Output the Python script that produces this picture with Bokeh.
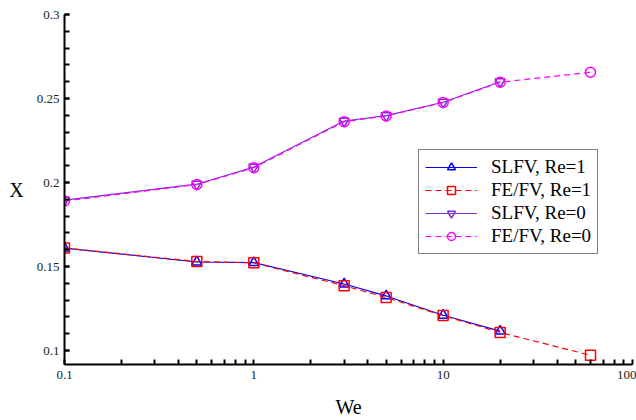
from bokeh.plotting import figure
from bokeh.models import FixedTicker, Legend, LegendItem, Range1d
from bokeh.embed import file_html
from bokeh.resources import INLINE

# Weber numbers sampled by each method
we_slfv = [0.1, 0.5, 1, 3, 5, 10, 20]
we_fefv = [0.1, 0.5, 1, 3, 5, 10, 20, 60]

# X versus We for each method / Reynolds number
slfv_re1 = [0.161, 0.1527, 0.1523, 0.1396, 0.1325, 0.1210, 0.1116]
fefv_re1 = [0.161, 0.1530, 0.1522, 0.1386, 0.1316, 0.1208, 0.1108, 0.0972]
slfv_re0 = [0.1895, 0.1990, 0.2092, 0.2366, 0.2398, 0.2478, 0.2600]
fefv_re0 = [0.1890, 0.1988, 0.2088, 0.2362, 0.2396, 0.2476, 0.2597, 0.2656]

series_labels = ["SLFV, Re=1", "FE/FV, Re=1", "SLFV, Re=0", "FE/FV, Re=0"]

x_ticks = [0.1, 1, 10, 100]
x_tick_labels = ["0.1", "1", "10", "100"]
y_ticks = [0.1, 0.15, 0.2, 0.25, 0.3]
y_tick_labels = ["0.1", "0.15", "0.2", "0.25", "0.3"]

FONT = "Liberation Serif"

p = figure(width=636, height=420, x_axis_type="log",
           output_backend="svg", toolbar_location=None,
           min_border_left=64, min_border_right=4,
           min_border_top=14, min_border_bottom=53)
p.x_range = Range1d(0.1, 100)
p.y_range = Range1d(0.0917, 0.3)
p.outline_line_color = None
p.grid.visible = False
p.background_fill_color = "white"
p.border_fill_color = "white"

x_minor = [m * d for d in [0.1, 1, 10] for m in range(2, 10)]
y_minor = [round(0.09 + 0.01 * i, 2) for i in range(22)]
p.xaxis.ticker = FixedTicker(ticks=x_ticks, minor_ticks=x_minor)
p.yaxis.ticker = FixedTicker(ticks=y_ticks, minor_ticks=y_minor)
p.xaxis.major_label_overrides = {t: s for t, s in zip(x_ticks, x_tick_labels)}
p.yaxis.major_label_overrides = {t: s for t, s in zip(y_ticks, y_tick_labels)}

for ax in (p.xaxis, p.yaxis):
    ax.axis_line_width = 2
    ax.axis_line_color = "black"
    ax.major_tick_line_width = 2
    ax.minor_tick_line_width = 2
    ax.major_tick_in = 5
    ax.major_tick_out = 0
    ax.minor_tick_in = 5
    ax.minor_tick_out = 0
    ax.major_label_text_font = FONT
    ax.major_label_text_font_size = "13px"
    ax.major_label_text_color = "#222222"
    ax.axis_label_text_font = FONT
    ax.axis_label_text_font_size = "20px"
    ax.axis_label_text_font_style = "normal"
    ax.axis_label_text_color = "black"

p.xaxis.axis_label = "We"
p.xaxis.major_label_standoff = 6
p.xaxis.axis_label_standoff = 14
p.yaxis.axis_label = "X"
p.yaxis.axis_label_orientation = "horizontal"
p.yaxis.major_label_standoff = 5
p.yaxis.axis_label_standoff = 10

styles = [
    (we_slfv, slfv_re1, "#0000ff", "solid", "triangle"),
    (we_fefv, fefv_re1, "#ff0000", "6 4", "square"),
    (we_slfv, slfv_re0, "#7a30d0", "solid", "inverted_triangle"),
    (we_fefv, fefv_re0, "#ff00ff", "6 4", "circle"),
]

items = []
for (xs, ys, color, dash, marker), label in zip(styles, series_labels):
    ln = p.line(xs, ys, line_color=color, line_width=1.2, line_dash=dash)
    sc = p.scatter(xs, ys, marker=marker, size=10, line_color=color,
                   line_width=1.5, fill_color=None)
    items.append(LegendItem(label=label, renderers=[ln, sc]))

# legend anchored by its lower-left corner, in pixels from the frame's lower-left
legend = Legend(items=items, location=(354, 110))
legend.label_text_font = FONT
legend.label_text_font_size = "19px"
legend.label_text_line_height = 1.0
legend.label_text_color = "black"
legend.border_line_color = "black"
legend.border_line_width = 1
legend.background_fill_color = "white"
legend.background_fill_alpha = 1
legend.glyph_width = 52
legend.glyph_height = 20
legend.label_height = 20
legend.label_standoff = 14
legend.spacing = 1
legend.padding = 6
legend.margin = 0
p.add_layout(legend, "center")

open("out.html", "w").write(file_html(p, INLINE))
